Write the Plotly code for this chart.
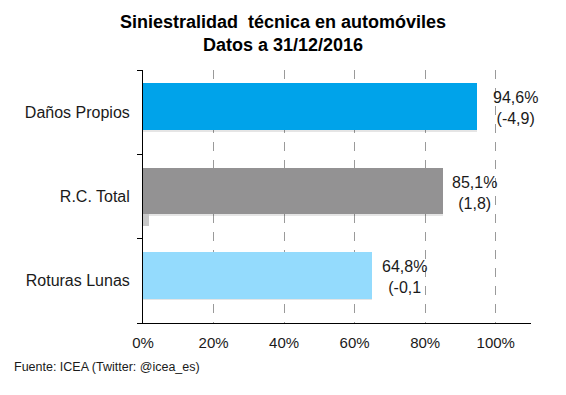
import plotly.graph_objects as go

# ---- data ----
categories = ["Roturas Lunas", "R.C. Total", "Daños Propios"]   # bottom -> top
siniestralidad = [64.8, 85.1, 94.6]          # % technical loss ratio
variacion = [-0.1, 1.8, -4.9]                # change vs previous year (points)
variacion_labels = ["(-0,1", "(1,8)", "(-4,9)"]
x_ticks = [0, 20, 40, 60, 80, 100]
x_tick_labels = ["0%", "20%", "40%", "60%", "80%", "100%"]

# ---- styles ----
bar_colors = ["#94DBFD", "#939293", "#00A3EA"]
label_pad = [8, 7, 14]
FONT = "Arial, 'Liberation Sans', sans-serif"
W, H = 566, 395
ML, MR, MT, MB = 143, 35, 70, 72
PW, PH = W - ML - MR, H - MT - MB

fig = go.Figure()

# soft shadow under the bars
fig.add_trace(go.Bar(
    y=categories, x=siniestralidad, orientation="h",
    marker=dict(color="rgba(0,0,0,0.10)", line=dict(width=0)),
    offset=-0.232, width=0.55, hoverinfo="skip", showlegend=False,
))
# main series
fig.add_trace(go.Bar(
    y=categories, x=siniestralidad, orientation="h",
    marker=dict(color=bar_colors, line=dict(width=0)),
    offset=-0.21, width=0.55, showlegend=False,
))
# change series (only positive values visible)
fig.add_trace(go.Bar(
    y=categories, x=variacion, orientation="h",
    marker=dict(color="#C8C8C8", line=dict(width=0)),
    offset=-0.345, width=0.14, showlegend=False,
))

for cat, v, lab, pad in zip(categories, siniestralidad, variacion_labels, label_pad):
    txt = f"{v:.1f}".replace(".", ",") + "%<br>" + lab
    fig.add_annotation(
        x=v, y=cat, xref="x", yref="y", text=txt, showarrow=False,
        xanchor="left", yanchor="middle", align="center",
        xshift=pad, yshift=4,
        font=dict(family=FONT, size=16, color="#1a1a1a"),
    )

fig.add_annotation(
    text="Fuente: ICEA (Twitter: @icea_es)", showarrow=False,
    xref="paper", yref="paper", x=(12 - ML) / PW, y=(H - MB - 367) / PH,
    xanchor="left", yanchor="middle",
    font=dict(family=FONT, size=12.5, color="#1a1a1a"),
)

# title as an annotation centred on the page
fig.add_annotation(
    text="<b>Siniestralidad  técnica en automóviles<br>Datos a 31/12/2016</b>",
    showarrow=False, xref="paper", yref="paper",
    x=(W / 2 - ML) / PW, y=(H - MB - 34) / PH,
    xanchor="center", yanchor="middle", align="center",
    font=dict(family=FONT, size=18, color="#000000"),
)

fig.update_layout(
    width=W, height=H,
    margin=dict(l=ML, r=MR, t=MT, b=MB, autoexpand=False),
    paper_bgcolor="white", plot_bgcolor="white",
    barmode="overlay", bargap=0,
    xaxis=dict(
        range=[0, 110], tickvals=x_ticks, ticktext=x_tick_labels,
        showgrid=True, gridcolor="#9a9a9a", griddash="dash", gridwidth=1,
        zeroline=False, showline=True, linecolor="black", linewidth=1,
        ticks="", ticklabelstandoff=6,
        tickfont=dict(family=FONT, size=15, color="#1a1a1a"),
        automargin=False, fixedrange=True,
    ),
    yaxis=dict(
        categoryorder="array", categoryarray=categories,
        showgrid=False, zeroline=False, showline=True, linecolor="black", linewidth=1,
        ticks="outside", tickson="boundaries", ticklen=5, tickcolor="black",
        ticklabelstandoff=9,
        tickfont=dict(family=FONT, size=16, color="#1a1a1a"),
        automargin=False, fixedrange=True,
    ),
)

fig.write_html(
    "out.html",
    config={"displayModeBar": False},
    post_script="document.body.style.margin='0';document.body.style.padding='0';",
)
